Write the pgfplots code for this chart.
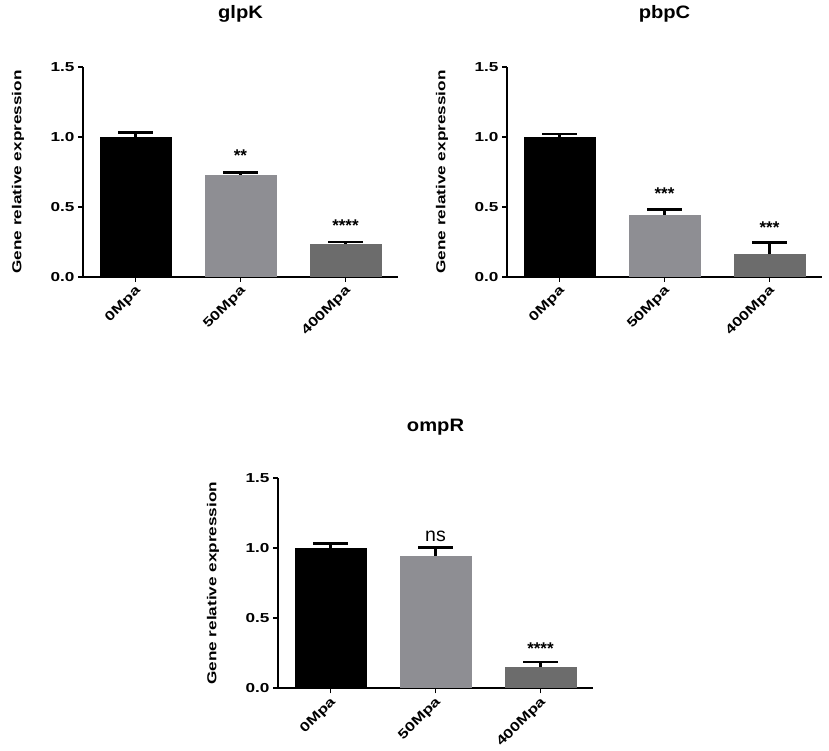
\documentclass[border=0pt]{standalone}
\usepackage{pgfplots}
\pgfplotsset{compat=1.18}
\usepackage{fontspec}
\setmainfont{Liberation Sans}
\usepackage{graphicx}
\newcommand{\W}[1]{\scalebox{1.32}[1]{#1}}
\definecolor{barA}{RGB}{0,0,0}
\definecolor{barB}{RGB}{142,142,147}
\definecolor{barC}{RGB}{108,108,108}
\pgfplotsset{
  gstyle/.style={
    scale only axis, width=315pt, height=210pt,
    xmin=-0.5, xmax=2.5, ymin=0, ymax=1.5,
    axis lines=left, axis line style={-, line width=1.8pt, black},
    xtick={0,1,2}, xticklabels={\W{0Mpa},\W{50Mpa},\W{400Mpa}},
    ytick={0,0.5,1,1.5},
    yticklabel={\W{\pgfmathprintnumber[fixed,fixed zerofill,precision=1]{\tick}}},
    /pgf/number format/assume math mode=true,
    tick align=outside, major tick length=5pt,
    tick style={line width=1.8pt, black},
    ticklabel style={font=\fontsize{13}{14}\selectfont\bfseries},
    x tick label style={rotate=45, anchor=east, yshift=-7pt, xshift=1pt},
    every axis y label/.style={at={(axis description cs:-0.206,0.5)}, rotate=90, anchor=center, font=\fontsize{13}{15}\selectfont\bfseries},
    ylabel={\W{Gene relative expression}},
    every axis title shift=0pt,
    title style={font=\fontsize{18}{20}\selectfont\bfseries, at={(axis description cs:0.5,1)}, anchor=base, yshift=48pt},
    clip=false,
  },
  eb/.style={ybar, bar width=72pt, bar shift=0pt,
    error bars/.cd, y dir=plus, y explicit,
    error bar style={line width=2.2pt, black},
    error mark options={rotate=90, line width=2.5pt, black, mark size=17.5pt}},
}
\begin{document}
\begin{tikzpicture}
\path[use as bounding box] (0,0) rectangle (829pt,751pt);
% glpK
\begin{axis}[gstyle, at={(83pt,474pt)}, anchor=south west, title={\scalebox{1.12}[1]{glpK}}]
\addplot[fill=barA, draw=none, eb] coordinates {(0,1.000) +- (0,0.033)};
\addplot[fill=barB, draw=none, eb] coordinates {(1,0.729) +- (0,0.016)};
\addplot[fill=barC, draw=none, eb] coordinates {(2,0.238) +- (0,0.012)};
\node[font=\fontsize{17}{18}\selectfont\bfseries] at (axis cs:1,0.868) {**};
\node[font=\fontsize{17}{18}\selectfont\bfseries] at (axis cs:2,0.368) {****};
\end{axis}
% pbpC
\begin{axis}[gstyle, at={(507pt,474pt)}, anchor=south west, title={\scalebox{1.12}[1]{pbpC}}]
\addplot[fill=barA, draw=none, eb] coordinates {(0,1.000) +- (0,0.020)};
\addplot[fill=barB, draw=none, eb] coordinates {(1,0.443) +- (0,0.040)};
\addplot[fill=barC, draw=none, eb] coordinates {(2,0.164) +- (0,0.081)};
\node[font=\fontsize{17}{18}\selectfont\bfseries] at (axis cs:1,0.592) {***};
\node[font=\fontsize{17}{18}\selectfont\bfseries] at (axis cs:2,0.352) {***};
\end{axis}
% ompR
\begin{axis}[gstyle, at={(278pt,62.7pt)}, anchor=south west, title={\scalebox{1.12}[1]{ompR}},
  title style={yshift=-1.5pt}]
\addplot[fill=barA, draw=none, eb] coordinates {(0,1.000) +- (0,0.036)};
\addplot[fill=barB, draw=none, eb] coordinates {(1,0.948) +- (0,0.057)};
\addplot[fill=barC, draw=none, eb] coordinates {(2,0.155) +- (0,0.033)};
\node[font=\fontsize{19.5}{21}\selectfont] at (axis cs:1,1.088) {ns};
\node[font=\fontsize{17}{18}\selectfont\bfseries] at (axis cs:2,0.280) {****};
\end{axis}
\end{tikzpicture}
\end{document}
